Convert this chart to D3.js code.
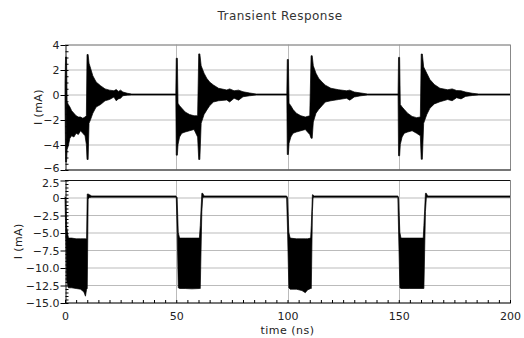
<!DOCTYPE html>
<html>
<head>
<meta charset="utf-8">
<script src="https://cdnjs.cloudflare.com/ajax/libs/d3/7.8.5/d3.min.js"></script>
<style>
  body { margin: 0; background: #fff; }
  text { font-family: "DejaVu Sans", sans-serif; fill: #222; }
</style>
</head>
<body>
<div id="chart"></div>
<script>
// tick labels
const timeTicks = [0, 50, 100, 150, 200];
const topTicks = [4, 2, 0, -2, -4, -6];
const botTicks = [2.5, 0, -2.5, -5, -7.5, -10, -12.5, -15];

// top trace: envelope of the oscillating current (time ns, upper mA, lower mA)
const topTime = [
  0.0, 0.25, 0.7, 0.95, 1.5, 2.2, 3.0, 4.0, 5.0, 6.0, 7.0, 8.0, 9.0, 9.6, 9.9, 10.4, 10.8, 11.5, 12.5, 14.0,
  16.0, 18.0, 20.0, 22.0, 23.0, 24.0, 25.0, 26.0, 28.0, 30.0, 49.8,
  50.0, 50.5, 50.8, 51.5, 52.5, 54.0, 56.0, 58.0, 59.6, 60.1, 60.6, 61.2, 62.5, 63.7, 65.0, 66.7, 69.0,
  72.7, 74.0, 76.0, 78.0, 80.0, 83.0, 86.0, 99.7,
  99.9, 100.4, 100.7, 101.5, 102.5, 104.0, 106.0, 108.0, 110.0, 110.6, 111.1, 111.6, 112.8, 114.0, 115.5,
  117.0, 119.5, 123.0, 126.5, 128.0, 130.0, 133.0, 136.0, 149.7,
  149.9, 150.4, 150.7, 151.5, 152.5, 154.0, 156.0, 158.0, 159.7, 160.1, 160.6, 161.2, 162.6, 164.0, 166.0,
  168.5, 172.0, 174.0, 176.0, 178.0, 180.0, 183.0, 186.0, 200.0
];
const topUpper = [
  0.9, 3.0, 3.0, -0.6, -0.8, -1.0, -1.3, -1.5, -1.7, -1.8, -1.8, -1.9, -1.8, -1.7, 3.2, 3.2, 2.5, 2.1, 1.5, 1.0,
  0.7, 0.45, 0.35, 0.3, 0.4, 0.25, 0.35, 0.2, 0.1, 0.04, 0.04,
  2.9, 2.9, -0.7, -0.9, -1.1, -1.4, -1.6, -1.7, -1.7, 3.25, 3.25, 2.3, 1.7, 1.3, 1.0, 0.76, 0.5,
  0.36, 0.45, 0.3, 0.35, 0.22, 0.12, 0.04, 0.04,
  2.8, 2.8, -0.7, -0.9, -1.2, -1.5, -1.7, -1.8, -1.7, 3.1, 3.1, 2.3, 1.7, 1.3, 1.0,
  0.75, 0.5, 0.38, 0.3, 0.35, 0.2, 0.12, 0.04, 0.04,
  2.97, 2.97, -0.8, -1.0, -1.2, -1.5, -1.75, -1.85, -1.8, 3.24, 3.24, 2.2, 1.7, 1.2, 0.8,
  0.5, 0.38, 0.45, 0.32, 0.3, 0.2, 0.1, 0.04, 0.04
];
const topLower = [
  -0.5, -5.4, -5.4, -4.4, -4.1, -3.5, -3.3, -3.4, -3.1, -3.2, -2.9, -3.1, -3.3, -4.0, -5.2, -5.2, -2.3, -2.0, -1.5, -1.0,
  -0.8, -0.5, -0.4, -0.2, -0.5, -0.35, -0.3, -0.1, -0.05, -0.04, -0.04,
  -4.85, -4.85, -4.0, -3.4, -3.1, -3.0, -2.9, -2.8, -3.4, -5.2, -5.2, -2.3, -1.6, -1.25, -0.9, -0.6, -0.5,
  -0.44, -0.6, -0.3, -0.45, -0.18, -0.1, -0.04, -0.04,
  -4.8, -4.8, -3.9, -3.4, -3.1, -3.0, -2.9, -2.8, -3.2, -3.5, -3.5, -2.2, -1.5, -1.2, -0.9,
  -0.6, -0.5, -0.4, -0.3, -0.45, -0.2, -0.1, -0.04, -0.04,
  -4.9, -4.9, -4.0, -3.4, -3.1, -3.0, -2.9, -3.1, -3.3, -5.18, -5.18, -2.3, -1.6, -1.1, -0.75,
  -0.58, -0.4, -0.5, -0.26, -0.35, -0.15, -0.08, -0.04, -0.04
];

// bottom trace envelope
const botTime = [
  0.0, 0.3, 0.8, 1.5, 3.0, 5.0, 7.0, 8.5, 9.2, 9.7, 10.0, 10.4, 11.0, 12.0, 49.9,
  50.0, 50.4, 50.9, 51.5, 54.0, 57.0, 60.4, 60.8, 61.5, 61.9, 62.5, 99.6,
  100.0, 100.6, 101.2, 104.0, 106.5, 108.0, 109.0, 110.4, 110.7, 111.2, 111.5, 112.0, 149.6,
  149.9, 150.5, 151.0, 155.0, 161.0, 161.3, 162.0, 162.4, 163.0, 200.0
];
const botUpper = [
  0.1, 0.0, -4.3, -5.8, -5.8, -5.9, -5.9, -5.9, -5.9, -5.9, 0.5, 0.5, 0.4, 0.22, 0.22,
  0.15, 0.0, -5.0, -5.8, -5.8, -5.8, -5.8, -4.0, 0.6, 0.6, 0.22, 0.22,
  0.0, -5.0, -5.8, -5.9, -5.9, -5.9, -5.9, -5.8, -4.0, 0.4, 0.36, 0.22, 0.22,
  0.0, -5.0, -5.8, -5.8, -5.8, -4.0, 0.6, 0.6, 0.22, 0.22
];
const botLower = [
  -0.1, -4.4, -11.9, -12.9, -12.9, -13.0, -13.1, -13.5, -14.1, -13.1, -13.0, -0.2, 0.0, 0.05, 0.05,
  0.0, -4.5, -12.9, -13.0, -13.0, -13.05, -13.0, -13.0, -2.0, 0.0, 0.05, 0.05,
  -4.5, -12.9, -13.1, -13.1, -13.3, -13.6, -13.2, -13.0, -13.0, -2.0, 0.0, 0.05, 0.05,
  -4.5, -12.9, -13.0, -13.0, -13.0, -13.0, -2.0, 0.0, 0.05, 0.05
];

const width = 524, height = 338;
const left = 65, right = 510;

const svg = d3.select("#chart").append("svg")
  .attr("width", width)
  .attr("height", height);

svg.append("rect").attr("width", width).attr("height", height).attr("fill", "#fff");

const x = d3.scaleLinear().domain([0, 200]).range([left, right]);

svg.append("text")
  .attr("x", 280).attr("y", 20)
  .attr("text-anchor", "middle")
  .style("font-size", "12px")
  .style("letter-spacing", "0.5px")
  .style("fill", "#333")
  .text("Transient Response");

function drawPanel(yDomain, yRange, ticks, minorCount, times, upper, lower, fmt, labelX, showX) {
  const y = d3.scaleLinear().domain(yDomain).range(yRange);
  const top = yRange[1], bottom = yRange[0];
  const g = svg.append("g");

  // grid
  g.selectAll(".hgrid").data(ticks).enter().append("line")
    .attr("x1", left).attr("x2", right)
    .attr("y1", d => y(d) + 0.5).attr("y2", d => y(d) + 0.5)
    .attr("stroke", "#bbb").attr("stroke-width", 1);
  g.selectAll(".vgrid").data(timeTicks.slice(1, -1)).enter().append("line")
    .attr("x1", d => Math.round(x(d)) + 0.5).attr("x2", d => Math.round(x(d)) + 0.5)
    .attr("y1", top).attr("y2", bottom)
    .attr("stroke", "#bbb").attr("stroke-width", 1);

  // trace
  const idx = d3.range(times.length);
  const area = d3.area()
    .x(i => x(times[i]))
    .y0(i => y(lower[i]))
    .y1(i => y(upper[i]));
  g.append("path")
    .datum(idx)
    .attr("d", area)
    .attr("fill", "#000")
    .attr("stroke", "#000")
    .attr("stroke-width", 0.7)
    .attr("stroke-linejoin", "round");

  // frame
  g.append("line").attr("x1", left).attr("x2", right).attr("y1", top + 0.5).attr("y2", top + 0.5)
    .attr("stroke", showX ? "#111" : "#888");
  g.append("line").attr("x1", right + 0.5).attr("x2", right + 0.5).attr("y1", top).attr("y2", bottom)
    .attr("stroke", "#888");
  g.append("line").attr("x1", left).attr("x2", right + 1).attr("y1", bottom + 0.5).attr("y2", bottom + 0.5)
    .attr("stroke", "#111");

  // y axis with major ticks outside
  const yAxis = g.append("g")
    .attr("transform", "translate(" + (left + 0.5) + ",0.5)")
    .call(d3.axisLeft(y).tickValues(ticks).tickSize(5).tickPadding(1).tickSizeOuter(0).tickFormat(fmt));
  yAxis.selectAll("text").style("font-size", "11px").style("font-family", "DejaVu Sans, sans-serif").style("fill", "#222");
  yAxis.select(".domain").attr("stroke", "#111");
  // keep the two labels at the panel seam apart
  if (showX) yAxis.selectAll("text").filter(d => d === ticks[0]).attr("dy", "0.5em");
  else yAxis.selectAll("text").filter(d => d === ticks[ticks.length - 1]).attr("dy", "0.15em");

  // minor ticks inside
  g.append("g")
    .attr("transform", "translate(" + (left + 0.5) + ",0.5)")
    .call(d3.axisRight(y).ticks(minorCount).tickSize(3).tickFormat(""))
    .call(a => a.select(".domain").remove());

  g.append("text")
    .attr("transform", "translate(" + labelX + "," + ((top + bottom) / 2) + ") rotate(-90)")
    .attr("text-anchor", "middle")
    .style("font-size", "11px")
    .style("letter-spacing", "0.4px")
    .text("I (mA)");

  if (showX) {
    const xAxis = g.append("g")
      .attr("transform", "translate(0," + (bottom + 0.5) + ")")
      .call(d3.axisBottom(x).tickValues(timeTicks).tickSize(0).tickPadding(9).tickFormat(d3.format("d")));
    xAxis.select(".domain").remove();
    xAxis.selectAll("text").style("font-size", "11px").style("font-family", "DejaVu Sans, sans-serif").style("fill", "#222");

    g.append("g")
      .attr("transform", "translate(0," + (bottom + 0.5) + ")")
      .call(d3.axisTop(x).ticks(40).tickSize(3).tickFormat(""))
      .call(a => a.select(".domain").remove());

    g.append("text")
      .attr("x", (left + right) / 2).attr("y", 334)
      .attr("text-anchor", "middle")
      .style("font-size", "11px")
      .style("letter-spacing", "0.5px")
      .text("time (ns)");
  }
}

const f1 = d3.format(".1f");
drawPanel([-6, 4], [169.5, 44.5], topTicks, 20, topTime, topUpper, topLower, d3.format("d"), 42, false);
drawPanel([-15, 2.5], [302.5, 180], botTicks, 35, botTime, botUpper, botLower, d => d === 0 ? "0" : f1(d), 22, true);
</script>
</body>
</html>
